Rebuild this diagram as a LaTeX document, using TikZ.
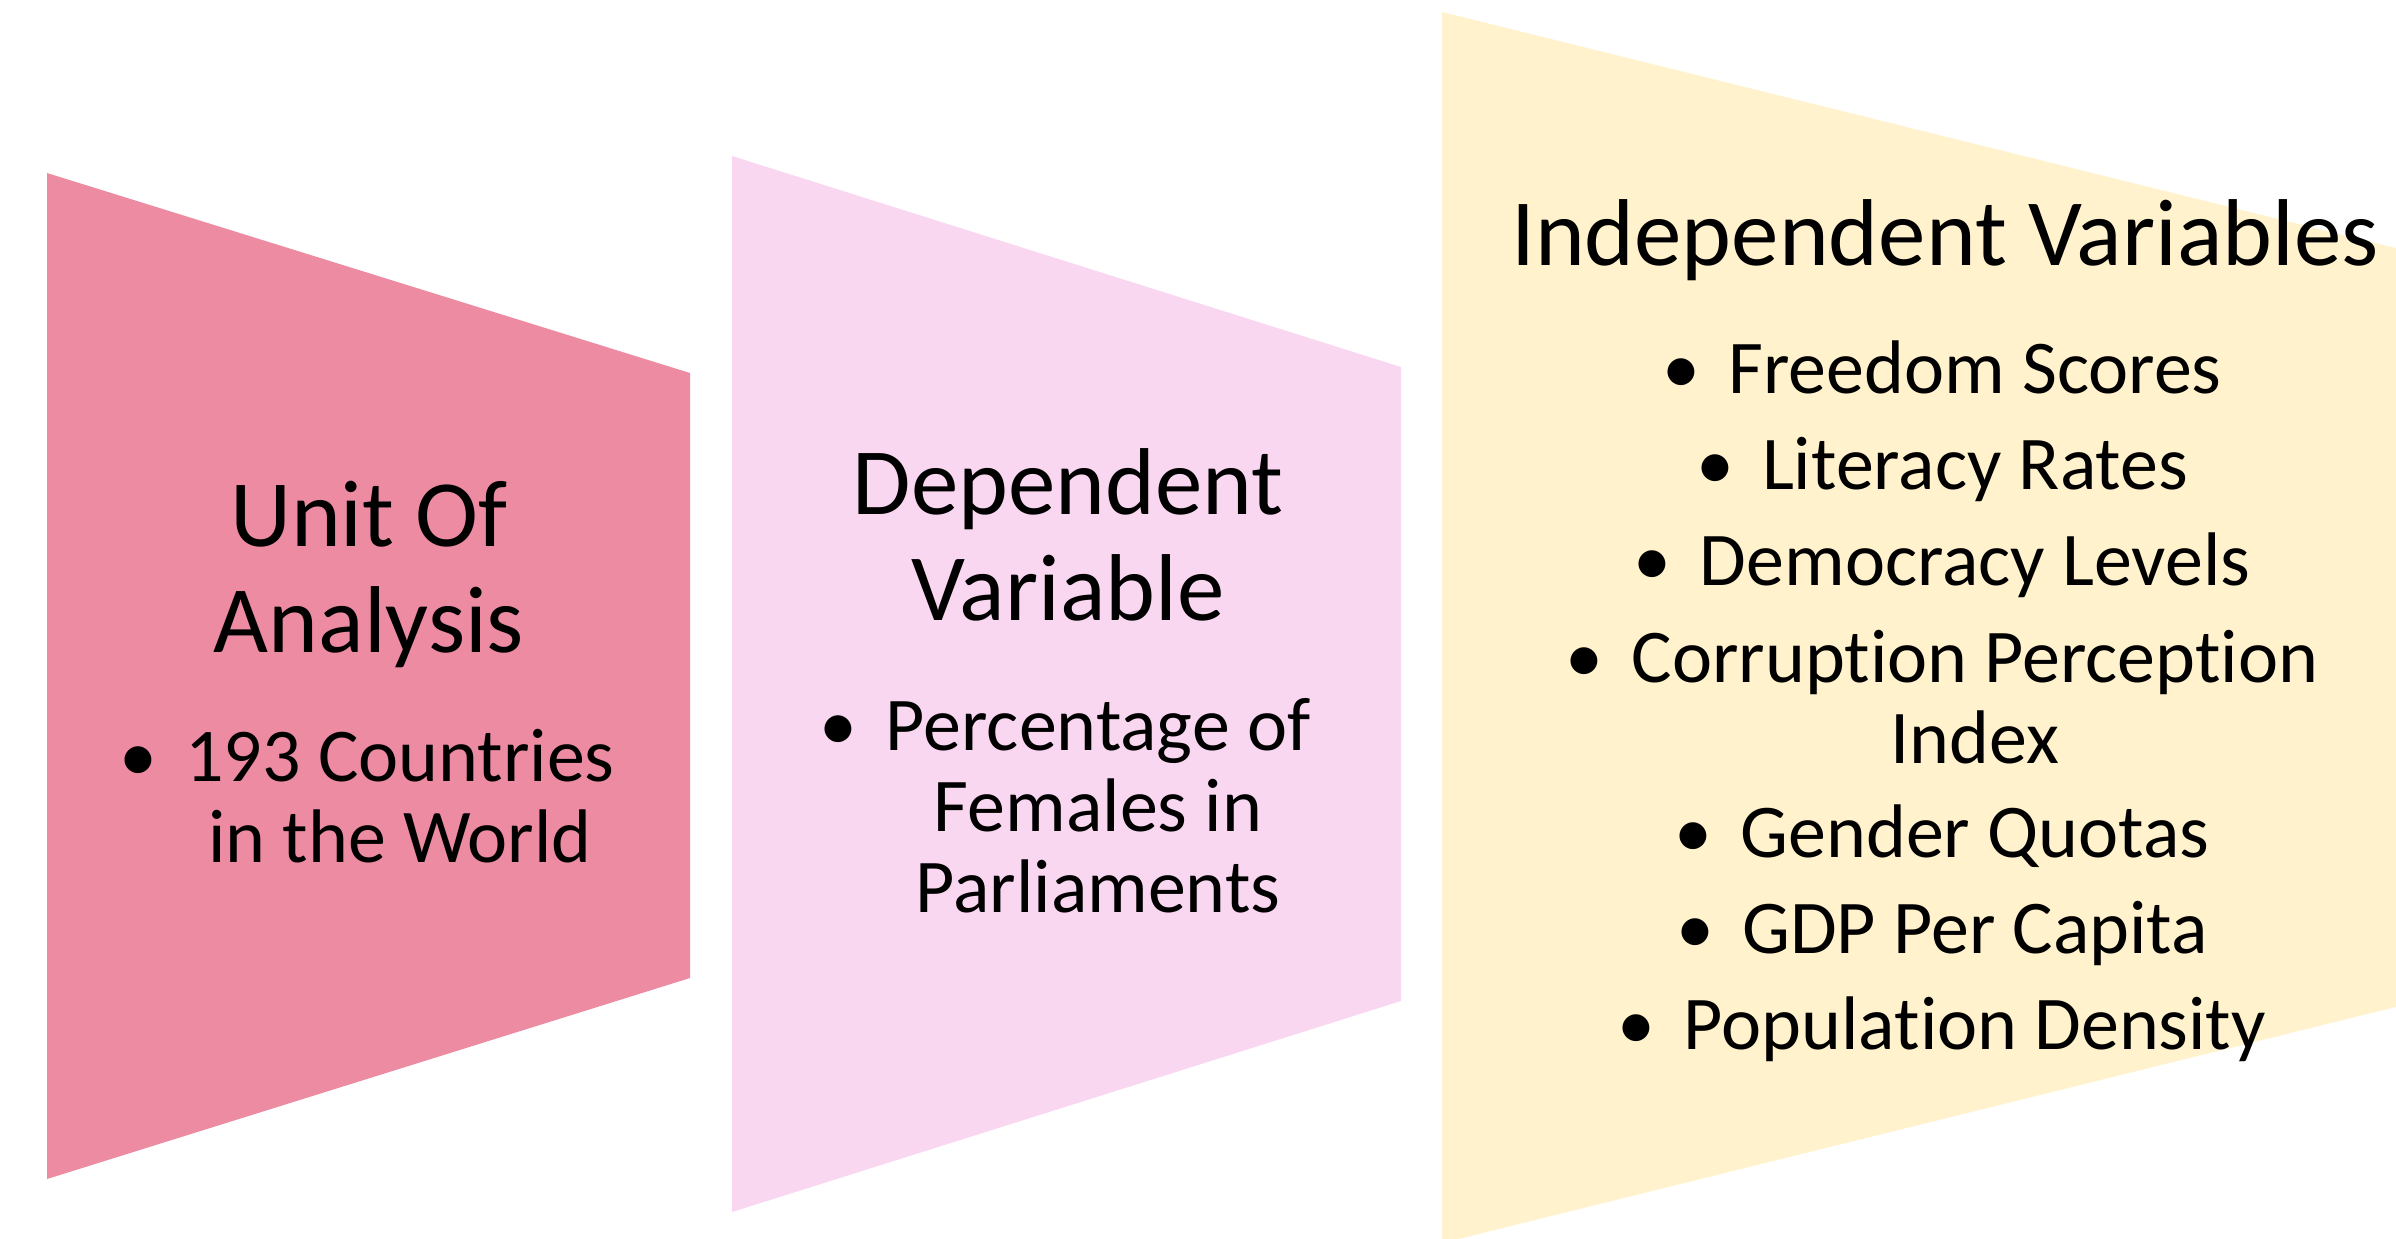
\documentclass[tikz,border=0pt]{standalone}
\usepackage{fontspec}
\setmainfont{Carlito}[Ligatures=NoCommon]
\usetikzlibrary{positioning}

\definecolor{unitpink}{RGB}{236,139,161}
\definecolor{deppink}{RGB}{250,215,240}
\definecolor{indgold}{RGB}{255,242,204}

\tikzset{
  panel/.style={fill=#1, draw=none},
  heading/.style={anchor=base, align=center, inner sep=0pt,
    font=\fontsize{27}{29.9}\selectfont},
  entry/.style={anchor=base, align=center, inner sep=0pt,
    font=\fontsize{21.6}{23}\selectfont},
}
\newcommand{\blt}{\llap{\textbullet\hspace{8pt}}}

\begin{document}
\begin{tikzpicture}[x=0.01cm,y=-0.01cm]
    \useasboundingbox (0,0) rectangle (2396,1238);
    \clip (0,0) rectangle (2396,1238);

    % the three panels
    \fill[panel=unitpink] (47,173) -- (690,373) -- (690,978) -- (47,1179) -- cycle;
    \fill[panel=deppink] (732,156) -- (1401,367) -- (1401,1001) -- (732,1212) -- cycle;
    \fill[panel=indgold] (1442,12) -- (2448,261) -- (2448,994) -- (1442,1243) -- cycle;

    % base of a multi-line node sits on its last line
    \node[heading] (unit) at (369,652) {Unit Of\\Analysis};
    \node[entry] (countries) at (400,862) {\blt 193 Countries\\in the World};

    \node[heading] (dep) at (1068,620) {Dependent\\Variable};
    \node[entry] (females) at (1098,912) {\blt Percentage of\\Females in\\Parliaments};

    \node[heading] (ind) at (1945,265) {Independent Variables};
    \node[entry] (freedom) at (1975,393) {\blt Freedom Scores};
    \node[entry] (literacy) at (1975,489) {\blt Literacy Rates};
    \node[entry] (democracy) at (1975,585) {\blt Democracy Levels};
    \node[entry] (corruption) at (1975,763) {\blt Corruption Perception\\Index};
    \node[entry] (quotas) at (1975,857) {\blt Gender Quotas};
    \node[entry] (gdp) at (1975,953) {\blt GDP Per Capita};
    \node[entry] (density) at (1975,1049) {\blt Population Density};
\end{tikzpicture}
\end{document}
